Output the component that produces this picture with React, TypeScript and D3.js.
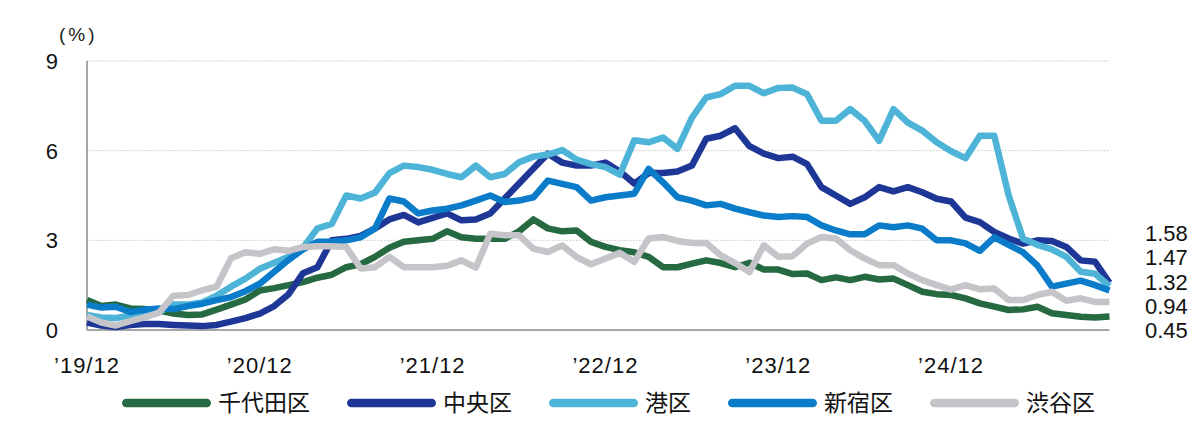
import React from "react";
import * as d3 from "d3";

const months: number[] = d3.range(72);
const xTickLabels = ["’19/12", "’20/12", "’21/12", "’22/12", "’23/12", "’24/12"];
const xTickIdx = [0, 12, 24, 36, 48, 60];
const yTicks = [0, 3, 6, 9];

const chiyoda = [1.0,0.8,0.85,0.72,0.7,0.65,0.55,0.5,0.52,0.68,0.85,1.02,1.32,1.4,1.5,1.6,1.75,1.85,2.1,2.2,2.45,2.75,2.95,3.0,3.05,3.3,3.1,3.05,3.05,3.05,3.3,3.7,3.4,3.3,3.33,2.95,2.78,2.67,2.6,2.45,2.1,2.1,2.22,2.33,2.24,2.1,2.25,2.02,2.02,1.87,1.89,1.67,1.76,1.67,1.78,1.69,1.72,1.5,1.28,1.2,1.17,1.06,0.89,0.78,0.67,0.69,0.78,0.56,0.5,0.44,0.42,0.45];
const chuo = [0.25,0.15,0.1,0.17,0.2,0.2,0.17,0.15,0.13,0.17,0.28,0.4,0.55,0.8,1.2,1.9,2.1,3.0,3.05,3.15,3.4,3.7,3.85,3.6,3.75,3.9,3.67,3.7,3.9,4.4,4.9,5.4,5.9,5.6,5.5,5.5,5.6,5.3,4.9,5.25,5.25,5.3,5.5,6.4,6.5,6.75,6.15,5.9,5.75,5.8,5.55,4.78,4.5,4.22,4.44,4.78,4.64,4.78,4.61,4.39,4.3,3.76,3.61,3.28,3.06,2.89,3.0,2.98,2.78,2.33,2.28,1.58];
const minato = [0.5,0.42,0.4,0.48,0.55,0.6,0.85,0.85,0.92,1.15,1.45,1.72,2.05,2.25,2.45,2.75,3.4,3.55,4.5,4.4,4.6,5.25,5.5,5.45,5.36,5.22,5.11,5.5,5.11,5.22,5.61,5.8,5.87,6.02,5.7,5.55,5.45,5.2,6.35,6.28,6.44,6.06,7.1,7.78,7.89,8.17,8.17,7.92,8.1,8.11,7.89,7.0,7.0,7.39,7.0,6.33,7.39,6.94,6.67,6.28,5.98,5.75,6.5,6.5,4.5,3.05,2.85,2.7,2.45,1.95,1.88,1.47];
const shinjuku = [0.85,0.75,0.78,0.6,0.68,0.72,0.7,0.8,0.88,1.0,1.1,1.3,1.55,1.95,2.35,2.7,2.95,2.95,3.0,3.1,3.4,4.4,4.3,3.9,4.0,4.06,4.17,4.33,4.5,4.28,4.33,4.44,5.0,4.89,4.78,4.33,4.44,4.5,4.56,5.39,4.94,4.44,4.33,4.17,4.22,4.06,3.94,3.83,3.78,3.81,3.78,3.5,3.33,3.2,3.2,3.5,3.44,3.5,3.39,3.0,3.0,2.9,2.65,3.1,2.85,2.6,2.15,1.45,1.55,1.65,1.5,1.32];
const shibuya = [0.45,0.25,0.15,0.3,0.42,0.58,1.15,1.17,1.33,1.45,2.4,2.6,2.55,2.7,2.65,2.78,2.8,2.8,2.78,2.06,2.1,2.45,2.1,2.1,2.1,2.15,2.33,2.09,3.22,3.17,3.17,2.72,2.61,2.83,2.44,2.2,2.39,2.58,2.28,3.06,3.11,2.98,2.91,2.91,2.5,2.24,1.94,2.83,2.45,2.47,2.89,3.11,3.06,2.67,2.39,2.17,2.17,1.89,1.67,1.5,1.35,1.5,1.36,1.39,1.0,1.0,1.17,1.28,0.98,1.06,0.94,0.94];

const seriesNames = ["千代田区", "中央区", "港区", "新宿区", "渋谷区"];
const seriesValues = [chiyoda, chuo, minato, shinjuku, shibuya];
const seriesColors = ["#266a42", "#1e3796", "#4db4d8", "#0a7cc9", "#c4c4c9"];
const endLabels = ["1.58", "1.47", "1.32", "0.94", "0.45"];

const FONT = "'Liberation Sans', Arial, sans-serif";
const CJK = "'Noto Sans CJK JP', 'Noto Sans CJK SC', sans-serif";

export default function App() {
  const x = d3.scaleLinear().domain([0, 71]).range([87, 1109.5]);
  const y = d3.scaleLinear().domain([0, 9]).range([330, 61]);
  const line = d3
    .line<number>()
    .x((_, i) => x(months[i]))
    .y((d) => y(d))
    .curve(d3.curveLinear);

  // legend layout
  const swLen = 89;
  const cap = 4.25;
  const legFont = 23;
  let cursor = 122;
  const legendItems = seriesNames.map((name, i) => {
    const s = cursor;
    const tx = s + swLen + 7;
    cursor = tx + name.length * legFont + 37;
    return { name, x1: s + cap, x2: s + swLen - cap, tx, color: seriesColors[i] };
  });

  return (
    <svg
      width={1200}
      height={422}
      style={{ position: "absolute", left: 0, top: 0, background: "#fff" }}
    >
      {/* gridlines */}
      {yTicks.slice(1).map((t) => (
        <line
          key={"g" + t}
          x1={x(0)}
          x2={1109.5}
          y1={y(t)}
          y2={y(t)}
          stroke="#c8c8c8"
          strokeWidth={1}
          strokeDasharray="1.5 1.5"
        />
      ))}
      {/* axes */}
      <line x1={x(0)} x2={1109.5} y1={y(0)} y2={y(0)} stroke="#8a8a8a" strokeWidth={1.5} />
      <line x1={x(0)} x2={x(0)} y1={y(9)} y2={y(0)} stroke="#8a8a8a" strokeWidth={1.5} />
      {/* y tick labels */}
      {yTicks.map((t) => (
        <text
          key={"yt" + t}
          x={58}
          y={y(t)}
          dy="0.36em"
          textAnchor="end"
          fontFamily={FONT}
          fontSize={22}
          fill="#111"
        >
          {t}
        </text>
      ))}
      <text x={59} y={41} fontFamily={FONT} fontSize={19} letterSpacing={3} fill="#222">
        (%)
      </text>
      {/* x tick labels */}
      {xTickIdx.map((m, i) => (
        <text
          key={"xt" + m}
          x={x(m)}
          y={373}
          textAnchor="middle"
          fontFamily={FONT}
          fontSize={22}
          letterSpacing={1}
          fill="#111"
        >
          {xTickLabels[i]}
        </text>
      ))}
      {/* lines */}
      {seriesValues.map((vals, i) => (
        <path
          key={seriesNames[i]}
          d={line(vals) || ""}
          fill="none"
          stroke={seriesColors[i]}
          strokeWidth={6.5}
          strokeLinejoin="round"
        />
      ))}
      {/* end labels */}
      {endLabels.map((l, i) => (
        <text
          key={"el" + l}
          x={1145}
          y={y(0) - (endLabels.length - 1 - i) * 24.2}
          dy="0.36em"
          fontFamily={FONT}
          fontSize={22}
          fill="#111"
        >
          {l}
        </text>
      ))}
      {/* legend */}
      {legendItems.map((it) => (
        <g key={"lg" + it.name}>
          <line
            x1={it.x1}
            x2={it.x2}
            y1={403}
            y2={403}
            stroke={it.color}
            strokeWidth={8.5}
            strokeLinecap="round"
          />
          <text
            x={it.tx}
            y={403}
            dy="0.36em"
            fontFamily={CJK}
            fontSize={legFont}
            fill="#111"
          >
            {it.name}
          </text>
        </g>
      ))}
    </svg>
  );
}
